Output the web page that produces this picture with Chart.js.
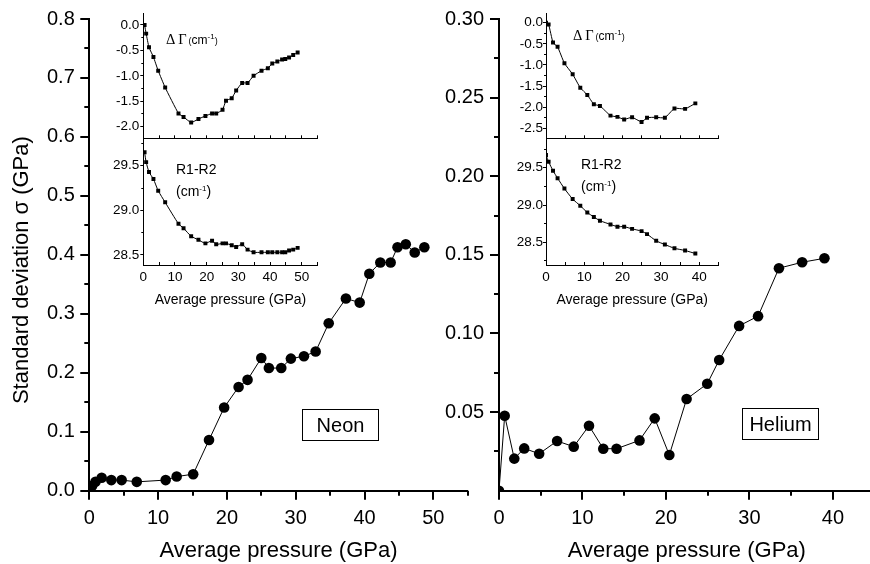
<!DOCTYPE html>
<html>
<head>
<meta charset="utf-8">
<script src="https://cdn.jsdelivr.net/npm/chart.js@4.4.1/dist/chart.umd.min.js"></script>
<style>
  html, body { margin: 0; padding: 0; background: #fff; overflow: hidden; }
  body { width: 870px; height: 564px; position: relative; font-family: "Liberation Sans", Arial, sans-serif; color: #000; }
  .holder { position: absolute; }
  .note { position: absolute; white-space: nowrap; }
  .greek { font-family: "Liberation Serif", "Times New Roman", serif; font-size: 14.5px; margin-right: 2px; }
  .small { font-size: 9px; }
  .sup { position: relative; top: -5px; font-size: 8px; }
  .gas { position: absolute; box-sizing: border-box; border: 1px solid #000; width: 77px; height: 32px;
         font-size: 20px; line-height: 30px; text-align: center; }
</style>
</head>
<body>
<div class="holder" id="neonMainBox"><canvas id="neonMain"></canvas></div>
<div class="holder" id="heliumMainBox"><canvas id="heliumMain"></canvas></div>
<div class="holder" id="neonWidthBox"><canvas id="neonWidth"></canvas></div>
<div class="holder" id="neonSplitBox"><canvas id="neonSplit"></canvas></div>
<div class="holder" id="heliumWidthBox"><canvas id="heliumWidth"></canvas></div>
<div class="holder" id="heliumSplitBox"><canvas id="heliumSplit"></canvas></div>

<div class="note" style="left:166px; top:33px; font-size:12px; line-height:12px;"><span class="greek">Δ Γ</span><span class="small">(</span>cm<span class="sup">-1</span><span class="small">)</span></div>
<div class="note" style="left:176px; top:162px; font-size:14px; line-height:14px;">R1-R2</div>
<div class="note" style="left:176px; top:184px; font-size:14px; line-height:14px;">(cm<span class="sup">-1</span>)</div>
<div class="note" style="left:573px; top:29px; font-size:12px; line-height:12px;"><span class="greek">Δ Γ</span><span class="small">(</span>cm<span class="sup">-1</span><span class="small">)</span></div>
<div class="note" style="left:581px; top:157px; font-size:14px; line-height:14px;">R1-R2</div>
<div class="note" style="left:581px; top:179px; font-size:14px; line-height:14px;">(cm<span class="sup">-1</span>)</div>
<div class="gas" style="left:302px; top:409px;">Neon</div>
<div class="gas" style="left:742px; top:408px;">Helium</div>

<script>
// Neon run: average pressure (GPa), sigma (GPa), linewidth change and R1-R2 splitting (cm-1)
const neonPressure = [0.4, 0.9, 1.8, 3.2, 4.7, 6.9, 11.1, 12.7, 15.1, 17.4, 19.6, 21.7, 23.0, 25.0, 26.1,
  27.9, 29.3, 31.2, 32.9, 34.8, 37.3, 39.3, 40.7, 42.3, 43.8, 44.8, 46.0, 47.3, 48.7];
const neonSigma = [0.008, 0.015, 0.022, 0.018, 0.018, 0.015, 0.018, 0.024, 0.028, 0.086, 0.141, 0.176, 0.188,
  0.225, 0.208, 0.208, 0.224, 0.228, 0.236, 0.284, 0.326, 0.319, 0.368, 0.387, 0.387, 0.413, 0.418, 0.404, 0.413];
const neonWidthShift = [0.0, -0.17, -0.44, -0.63, -0.90, -1.23, -1.74, -1.81, -1.92, -1.85, -1.79, -1.74, -1.74,
  -1.67, -1.49, -1.44, -1.29, -1.14, -1.14, -1.00, -0.90, -0.85, -0.76, -0.72, -0.68, -0.67, -0.64, -0.59, -0.54];
const neonSplitting = [29.65, 29.54, 29.43, 29.35, 29.22, 29.09, 28.85, 28.80, 28.71, 28.67, 28.63, 28.66, 28.62,
  28.63, 28.63, 28.61, 28.59, 28.62, 28.56, 28.53, 28.53, 28.53, 28.53, 28.53, 28.53, 28.53, 28.55, 28.56, 28.58];

// Helium run
const heliumPressure = [0, 0.68, 1.83, 3.02, 4.81, 6.96, 8.95, 10.78, 12.49, 14.08, 16.83, 18.65, 20.4, 22.47,
  24.94, 26.37, 28.76, 31.03, 33.53, 36.31, 38.98];
const heliumSigma = [0.0, 0.0477, 0.0204, 0.0269, 0.0235, 0.0316, 0.028, 0.0413, 0.0267, 0.0267, 0.032, 0.046,
  0.0227, 0.0583, 0.068, 0.0831, 0.1048, 0.111, 0.1415, 0.1453, 0.1478];
const heliumWidthShift = [0, -0.04, -0.47, -0.57, -0.96, -1.22, -1.54, -1.71, -1.93, -1.97, -2.20, -2.23, -2.29,
  -2.24, -2.35, -2.25, -2.24, -2.25, -2.03, -2.04, -1.91];
const heliumSplitting = [29.67, 29.58, 29.46, 29.36, 29.22, 29.08, 28.99, 28.90, 28.84, 28.79, 28.74, 28.71,
  28.71, 28.68, 28.65, 28.61, 28.52, 28.47, 28.42, 28.39, 28.35];

const xTitle = 'Average pressure (GPa)';
const yTitle = 'Standard deviation σ (GPa)\u00a0\u00a0\u00a0\u00a0\u00a0';

Chart.defaults.font.family = '"Liberation Sans", Arial, sans-serif';
Chart.defaults.color = '#000';

// outward / inward tick marks drawn from the scales themselves
const tickMarks = {
  id: 'tickMarks',
  afterDraw: function (chart, args, opts) {
    const ctx = chart.ctx;
    ctx.save();
    ctx.strokeStyle = '#000';
    (opts.marks || []).forEach(function (m) {
      const s = chart.scales[m.axis];
      ctx.lineWidth = m.width;
      const first = Math.ceil(s.min / m.step - 1e-6);
      const last = Math.floor(s.max / m.step + 1e-6);
      for (let k = first; k <= last; k++) {
        const v = k * m.step;
        if (m.skipZero && Math.abs(v) < 1e-9) continue;
        let p = s.getPixelForValue(v);
        p = m.width % 2 ? Math.round(p - 0.5) + 0.5 : Math.round(p);
        ctx.beginPath();
        if (s.isHorizontal()) {
          ctx.moveTo(p, s.top);
          ctx.lineTo(p, s.top + m.len);
        } else {
          ctx.moveTo(s.right, p);
          ctx.lineTo(s.right - m.len, p);
        }
        ctx.stroke();
      }
    });
    ctx.restore();
  }
};

function points(xs, ys) {
  return xs.map(function (x, i) { return {x: x, y: ys[i]}; });
}

function drawPanel(id, box, area, p) {
  const holder = document.getElementById(id + 'Box');
  holder.style.left = box.l + 'px';
  holder.style.top = box.t + 'px';
  holder.style.width = box.w + 'px';
  holder.style.height = box.h + 'px';
  const yWidth = area.l - box.l;
  const xHeight = box.t + box.h - area.b;

  new Chart(document.getElementById(id), {
    type: 'line',
    data: {
      datasets: [{
        data: p.data,
        borderColor: '#000',
        borderWidth: 1,
        tension: p.tension,
        pointStyle: p.dot,
        pointRadius: p.radius,
        pointBackgroundColor: '#000',
        pointBorderWidth: 0
      }]
    },
    options: {
      animation: false,
      responsive: true,
      maintainAspectRatio: false,
      events: [],
      layout: { padding: { top: area.t - box.t, right: box.l + box.w - area.r, left: 0, bottom: 0 } },
      plugins: {
        legend: { display: false },
        tooltip: { enabled: false },
        tickMarks: { marks: p.marks }
      },
      scales: {
        x: {
          type: 'linear',
          min: p.x[0], max: p.x[1],
          border: { display: true, color: '#000', width: p.line },
          grid: { display: false, drawTicks: false },
          ticks: {
            display: p.xLabels,
            stepSize: 10, includeBounds: false, autoSkip: false, maxRotation: 0,
            padding: p.xPad,
            font: { size: p.fontSize },
            callback: function (v) { return String(v); }
          },
          title: p.xTitle ? { display: true, text: xTitle, font: { size: p.xTitle.size }, padding: { top: 0, bottom: p.xTitle.pad } } : { display: false },
          afterFit: function (s) { s.height = xHeight; s.paddingLeft = 0; s.paddingRight = 0; }
        },
        y: {
          type: 'linear',
          min: p.y[0], max: p.y[1],
          border: { display: true, color: '#000', width: p.line },
          grid: { display: false, drawTicks: false },
          ticks: {
            stepSize: p.y[2], includeBounds: false, autoSkip: false,
            padding: p.yPad,
            font: { size: p.fontSize },
            callback: function (v) {
              if (p.hideZero && Math.abs(v) < 1e-9) return '';
              return v.toFixed(p.y[3]);
            }
          },
          title: p.yTitle ? { display: true, text: yTitle, font: { size: 22 }, padding: { top: p.yTitle, bottom: 0 } } : { display: false },
          afterFit: function (s) { s.width = yWidth; s.paddingTop = 0; s.paddingBottom = 0; }
        }
      }
    },
    plugins: [tickMarks]
  });
}

// main panels
drawPanel('neonMain', {l: 0, t: 0, w: 480, h: 564}, {l: 89.3, t: 19, r: 467.7, b: 490.7}, {
  data: points(neonPressure, neonSigma),
  x: [0, 55], y: [0, 0.8, 0.1, 1],
  line: 2, fontSize: 20, xPad: 16, yPad: 14.5, xLabels: true,
  xTitle: { size: 22, pad: 0 }, yTitle: 8.3,
  dot: 'circle', radius: 5.3, tension: 0,
  marks: [
    {axis: 'x', step: 5, len: 5, width: 2}, {axis: 'x', step: 10, len: 9, width: 2},
    {axis: 'y', step: 0.05, len: 5, width: 2}, {axis: 'y', step: 0.1, len: 9, width: 2}
  ]
});

drawPanel('heliumMain', {l: 420, t: 0, w: 460, h: 564}, {l: 499, t: 19, r: 876.1, b: 490.7}, {
  data: points(heliumPressure, heliumSigma),
  x: [0, 45], y: [0, 0.3, 0.05, 2], hideZero: true,
  line: 2, fontSize: 20, xPad: 16, yPad: 15, xLabels: true,
  xTitle: { size: 22, pad: 0 }, yTitle: null,
  dot: 'circle', radius: 5.3, tension: 0,
  marks: [
    {axis: 'x', step: 5, len: 5, width: 2}, {axis: 'x', step: 10, len: 9, width: 2},
    {axis: 'y', step: 0.025, len: 5, width: 2, skipZero: true}, {axis: 'y', step: 0.05, len: 9, width: 2, skipZero: true}
  ]
});

// insets
drawPanel('neonWidth', {l: 100, t: 0, w: 230, h: 145}, {l: 143.3, t: 13.3, r: 317.6, b: 138.3}, {
  data: points(neonPressure, neonWidthShift),
  x: [0, 55], y: [-2.23, 0.23, 0.5, 1],
  line: 1, fontSize: 13.5, xPad: 3, yPad: 4, xLabels: false,
  xTitle: null, yTitle: null,
  dot: 'rect', radius: 2.8, tension: 0.15,
  marks: [
    {axis: 'x', step: 5, len: -3, width: 1},
    {axis: 'y', step: 0.25, len: 2, width: 1}, {axis: 'y', step: 0.5, len: 3, width: 1}
  ]
});

drawPanel('neonSplit', {l: 100, t: 130, w: 230, h: 179}, {l: 143.3, t: 138.3, r: 317.6, b: 265}, {
  data: points(neonPressure, neonSplitting),
  x: [0, 55], y: [28.388, 29.807, 0.5, 1],
  line: 1, fontSize: 13.5, xPad: 4, yPad: 4, xLabels: true,
  xTitle: { size: 14, pad: 0.6 }, yTitle: null,
  dot: 'rect', radius: 2.8, tension: 0.2,
  marks: [
    {axis: 'x', step: 5, len: -3, width: 1},
    {axis: 'y', step: 0.25, len: 2, width: 1}, {axis: 'y', step: 0.5, len: 3, width: 1}
  ]
});

drawPanel('heliumWidth', {l: 500, t: 0, w: 230, h: 145}, {l: 546, t: 13.3, r: 718.4, b: 138.3}, {
  data: points(heliumPressure, heliumWidthShift),
  x: [0, 45], y: [-2.737, 0.223, 0.5, 1],
  line: 1, fontSize: 13.5, xPad: 3, yPad: 3, xLabels: false,
  xTitle: null, yTitle: null,
  dot: 'rect', radius: 2.8, tension: 0.15,
  marks: [
    {axis: 'x', step: 5, len: -3, width: 1},
    {axis: 'y', step: 0.25, len: 2, width: 1}, {axis: 'y', step: 0.5, len: 3, width: 1}
  ]
});

drawPanel('heliumSplit', {l: 500, t: 130, w: 230, h: 179}, {l: 546, t: 138.3, r: 718.4, b: 265}, {
  data: points(heliumPressure, heliumSplitting),
  x: [0, 45], y: [28.196, 29.894, 0.5, 1],
  line: 1, fontSize: 13.5, xPad: 4, yPad: 3, xLabels: true,
  xTitle: { size: 14, pad: 0.6 }, yTitle: null,
  dot: 'rect', radius: 2.8, tension: 0.2,
  marks: [
    {axis: 'x', step: 5, len: -3, width: 1},
    {axis: 'y', step: 0.25, len: 2, width: 1}, {axis: 'y', step: 0.5, len: 3, width: 1}
  ]
});
</script>
</body>
</html>
